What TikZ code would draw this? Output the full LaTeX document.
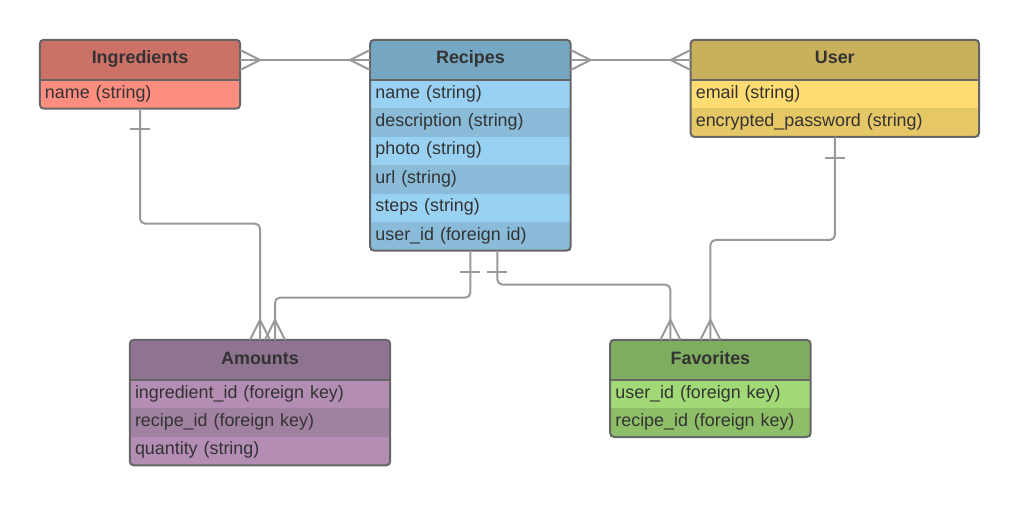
\documentclass[tikz,border=0pt]{standalone}
\usepackage{fontspec}
\setmainfont{Liberation Sans}
\usepackage{tikz}
\usetikzlibrary{positioning, backgrounds}
\definecolor{textgray}{HTML}{333333}
\definecolor{framegray}{HTML}{666666}
\definecolor{linkgray}{HTML}{999999}
\definecolor{ingHead}{HTML}{CC7166}
\definecolor{ingRow}{HTML}{FF8D80}
\definecolor{recHead}{HTML}{76A7C2}
\definecolor{recLight}{HTML}{99D1F3}
\definecolor{recDark}{HTML}{8ABCDA}
\definecolor{usrHead}{HTML}{C9B05A}
\definecolor{usrLight}{HTML}{FFDC72}
\definecolor{usrDark}{HTML}{E6C765}
\definecolor{amsHead}{HTML}{8E7490}
\definecolor{amsLight}{HTML}{B38DB3}
\definecolor{amsDark}{HTML}{A082A0}
\definecolor{favHead}{HTML}{7FAD60}
\definecolor{favLight}{HTML}{A2D977}
\definecolor{favDark}{HTML}{8EBE67}
\newcommand{\erfont}{\fontsize{17.9}{21}\selectfont}
\tikzstyle{entity}=[rectangle, minimum height=40pt, inner sep=0pt, text height=13pt, text depth=5pt, font=\erfont\bfseries, text=textgray]
\tikzstyle{field}=[rectangle, minimum height=28pt, inner xsep=5pt, inner ysep=0pt, text height=12pt, text depth=4.5pt, align=left, font=\erfont, text=textgray]
\tikzstyle{border}=[draw=framegray, line width=2pt]
\tikzstyle{link}=[draw=linkgray, line width=2pt, line join=round]

\begin{document}
\begin{tikzpicture}[x=1pt, y=1pt, node distance=0pt]
      \useasboundingbox (0,0) rectangle (1010,507);

      % tables
      \node[entity, fill=ingHead, minimum width=200pt] (ing) at (140,447) {Ingredients};
      \node[field, fill=ingRow, text width=190pt] (ing1) [below=of ing] {name (string)};

      \node[entity, fill=recHead, minimum width=200pt] (rec) [right=130pt of ing] {Recipes};
      \node[field, fill=recLight, text width=190pt] (rec1) [below=of rec] {name (string)};
      \node[field, fill=recDark, text width=190pt] (rec2) [below=of rec1] {description (string)};
      \node[field, fill=recLight, text width=190pt] (rec3) [below=of rec2] {photo (string)};
      \node[field, fill=recDark, text width=190pt] (rec4) [below=of rec3] {url (string)};
      \node[field, fill=recLight, text width=190pt] (rec5) [below=of rec4] {steps (string)};
      \node[field, fill=recDark, text width=190pt] (rec6) [below=of rec5] {user\_id (foreign id)};

      \node[entity, fill=usrHead, minimum width=288pt] (usr) [right=120pt of rec] {User};
      \node[field, fill=usrLight, text width=278pt] (usr1) [below=of usr] {email (string)};
      \node[field, fill=usrDark, text width=278pt] (usr2) [below=of usr1] {encrypted\_password (string)};

      \node[entity, fill=amsHead, minimum width=260pt] (ams) at (260,147) {Amounts};
      \node[field, fill=amsLight, text width=250pt] (ams1) [below=of ams] {ingredient\_id (foreign key)};
      \node[field, fill=amsDark, text width=250pt] (ams2) [below=of ams1] {recipe\_id (foreign key)};
      \node[field, fill=amsLight, text width=250pt] (ams3) [below=of ams2] {quantity (string)};

      \node[entity, fill=favHead, minimum width=200pt] (fav) [right=220pt of ams] {Favorites};
      \node[field, fill=favLight, text width=190pt] (fav1) [below=of fav] {user\_id (foreign key)};
      \node[field, fill=favDark, text width=190pt] (fav2) [below=of fav1] {recipe\_id (foreign key)};

      % filler behind the rows
      \begin{scope}[on background layer]
        \fill[recDark] (rec1.north west) rectangle (rec6.south east);
        \fill[usrDark] (usr1.north west) rectangle (usr2.south east);
        \fill[amsDark] (ams1.north west) rectangle (ams3.south east);
        \fill[favDark] (fav1.north west) rectangle (fav2.south east);
      \end{scope}

      % frames
      \draw[border] (ing.south west) -- (ing.south east);
      \draw[border, rounded corners=4pt] (ing.north west) rectangle (ing1.south east);
      \draw[border] (rec.south west) -- (rec.south east);
      \draw[border, rounded corners=4pt] (rec.north west) rectangle (rec6.south east);
      \draw[border] (usr.south west) -- (usr.south east);
      \draw[border, rounded corners=4pt] (usr.north west) rectangle (usr2.south east);
      \draw[border] (ams.south west) -- (ams.south east);
      \draw[border, rounded corners=4pt] (ams.north west) rectangle (ams3.south east);
      \draw[border] (fav.south west) -- (fav.south east);
      \draw[border, rounded corners=4pt] (fav.north west) rectangle (fav2.south east);

      % many to many
      \draw[link] (ing.east) -- (rec.west);
      \draw[link] ([yshift=10pt]ing.east) -- ++(20,-10) -- ++(-20,-10);
      \draw[link] ([yshift=10pt]rec.west) -- ++(-20,-10) -- ++(20,-10);
      \draw[link] (rec.east) -- (usr.west);
      \draw[link] ([yshift=10pt]rec.east) -- ++(20,-10) -- ++(-20,-10);
      \draw[link] ([yshift=10pt]usr.west) -- ++(-20,-10) -- ++(20,-10);

      % one to many
      \draw[link, rounded corners=5pt] (ing1.south) -- ++(0,-115) -| (ams.north);
      \draw[link] ([shift={(-10,-20)}]ing1.south) -- ++(20,0);
      \draw[link] ([xshift=-10pt]ams.north) -- ++(10,20) -- ++(10,-20);

      \draw[link, rounded corners=5pt] (rec6.south) -- ++(0,-47) -| ([xshift=15pt]ams.north);
      \draw[link] ([shift={(-10,-21)}]rec6.south) -- ++(20,0);
      \draw[link] ([xshift=5pt]ams.north) -- ++(10,20) -- ++(10,-20);

      \draw[link, rounded corners=5pt] ([xshift=27pt]rec6.south) -- ++(0,-34) -| ([xshift=-40pt]fav.north);
      \draw[link] ([shift={(17,-21)}]rec6.south) -- ++(20,0);
      \draw[link] ([xshift=-50pt]fav.north) -- ++(10,20) -- ++(10,-20);

      \draw[link, rounded corners=5pt] (usr2.south) -- ++(0,-103) -| (fav.north);
      \draw[link] ([shift={(-10,-21)}]usr2.south) -- ++(20,0);
      \draw[link] ([xshift=-10pt]fav.north) -- ++(10,20) -- ++(10,-20);
\end{tikzpicture}
\end{document}
